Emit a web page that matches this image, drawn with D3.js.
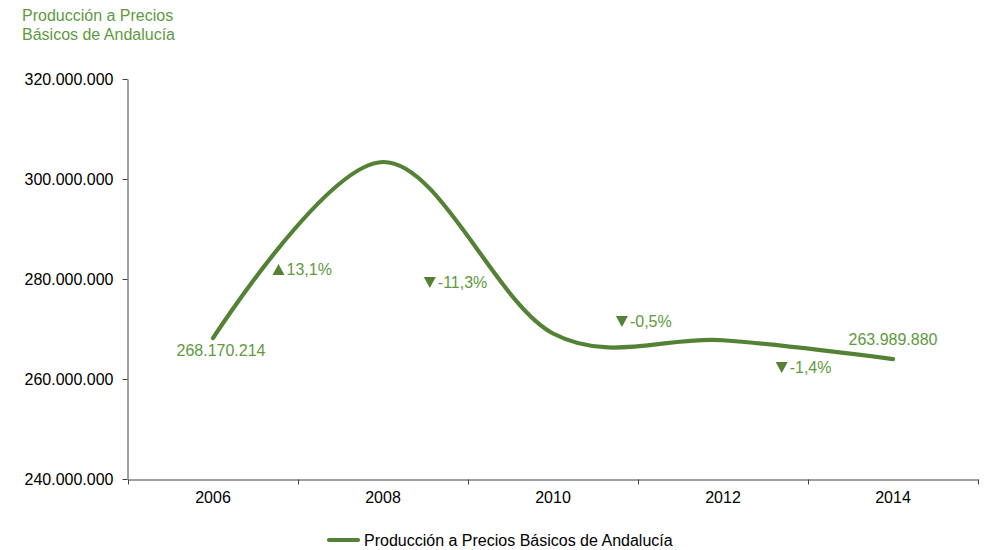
<!DOCTYPE html>
<html>
<head>
<meta charset="utf-8">
<script src="https://cdn.jsdelivr.net/npm/d3@7/dist/d3.min.js"></script>
<style>
  body { margin: 0; background: #fff; }
  svg { display: block; font-family: "Liberation Sans", Arial, sans-serif; }
</style>
</head>
<body>
<svg id="chart" width="987" height="550"></svg>
<script>
// ---- data ----
const years = ["2006", "2008", "2010", "2012", "2014"];
const values = [268170214, 303400000, 269100000, 267750000, 263989880];
const yTicks = [240000000, 260000000, 280000000, 300000000, 320000000];
const changeLabels = ["13,1%", "-11,3%", "-0,5%", "-1,4%"];
const changeDirections = ["up", "down", "down", "down"];
// label anchors in data units: category index (fractional) and value level
const changeLabelAt = [0.35, 1.24, 2.37, 3.31];
const changeLabelLevels = [280800000, 278200000, 270400000, 261200000];
const seriesName = "Producción a Precios Básicos de Andalucía";
const titleLines = ["Producción a Precios", "Básicos de Andalucía"];

// ---- styles ----
const lineColor = "#548235";
const textGreen = "#5e9a3e";
const axisColor = "#404040";
const fontSize = 16;

const svg = d3.select("#chart");
const fmt = n => d3.format(",")(n).replace(/,/g, ".");

const x = d3.scaleBand().domain(years).range([128, 978]).padding(0);
const xIdx = d3.scaleLinear().domain([0, years.length]).range([128, 978]);
const y = d3.scaleLinear().domain([240000000, 320000000]).range([479, 79]);
const cx = d => x(d) + x.bandwidth() / 2;

// title
svg.append("text")
  .attr("x", 22).attr("y", 21)
  .attr("fill", textGreen).attr("font-size", fontSize)
  .selectAll("tspan").data(titleLines).join("tspan")
  .attr("x", 22).attr("dy", (d, i) => i ? 19 : 0)
  .text(d => d);

// y axis
const yAxis = svg.append("g").attr("transform", "translate(127.5,0)")
  .call(d3.axisLeft(y).tickValues(yTicks).tickFormat(fmt).tickSize(5).tickSizeOuter(0).tickPadding(9));
yAxis.select(".domain").attr("stroke", axisColor);
yAxis.selectAll(".tick line").attr("stroke", axisColor);
yAxis.selectAll("text").attr("font-size", fontSize).attr("fill", "#000").attr("font-family", "Liberation Sans, Arial, sans-serif");

// x axis (labels at band centers, ticks at band boundaries)
const xAxis = svg.append("g").attr("transform", "translate(0,479.5)")
  .call(d3.axisBottom(x).tickSize(0).tickPadding(12).tickSizeOuter(0));
xAxis.select(".domain").attr("stroke", axisColor);
xAxis.selectAll("text").attr("font-size", fontSize).attr("fill", "#000").attr("font-family", "Liberation Sans, Arial, sans-serif");
const boundaries = years.map(d => x(d)).concat([x.range()[1]]);
xAxis.selectAll(".bticks").data(boundaries).join("line")
  .attr("x1", d => Math.round(d) + 0.5).attr("x2", d => Math.round(d) + 0.5)
  .attr("y1", 0).attr("y2", 5)
  .attr("stroke", axisColor);

// line
const pts = years.map((d, i) => [cx(d), y(values[i])]);
svg.append("path")
  .attr("d", d3.line().curve(d3.curveCardinal.tension(0))(pts))
  .attr("fill", "none")
  .attr("stroke", lineColor)
  .attr("stroke-width", 4.2)
  .attr("stroke-linecap", "round")
  .attr("stroke-linejoin", "round");

// endpoint data labels
svg.append("text")
  .attr("x", pts[0][0] + 8).attr("y", pts[0][1] + 18)
  .attr("text-anchor", "middle").attr("fill", textGreen).attr("font-size", fontSize)
  .text(fmt(values[0]));
const last = pts.length - 1;
svg.append("text")
  .attr("x", pts[last][0]).attr("y", pts[last][1] - 14)
  .attr("text-anchor", "middle").attr("fill", textGreen).attr("font-size", fontSize)
  .text(fmt(values[last]));

// change labels with triangle markers
const triPath = dir => dir === "up" ? "M0,0 L12,0 L6,-11 Z" : "M0,-11 L12,-11 L6,0 Z";
const chg = svg.selectAll(".chg").data(changeLabels).join("g")
  .attr("class", "chg")
  .attr("transform", (d, i) => `translate(${xIdx(changeLabelAt[i] + 0.5)},${y(changeLabelLevels[i])})`);
chg.append("path")
  .attr("d", (d, i) => triPath(changeDirections[i]))
  .attr("fill", lineColor);
chg.append("text")
  .attr("x", 14)
  .attr("fill", textGreen).attr("font-size", fontSize)
  .text(d => d);

// legend
svg.append("line")
  .attr("x1", 329).attr("x2", 358).attr("y1", 540).attr("y2", 540)
  .attr("stroke", lineColor).attr("stroke-width", 4.2).attr("stroke-linecap", "round");
svg.append("text")
  .attr("x", 364).attr("y", 546)
  .attr("fill", "#000").attr("font-size", fontSize)
  .text(seriesName);
</script>
</body>
</html>
